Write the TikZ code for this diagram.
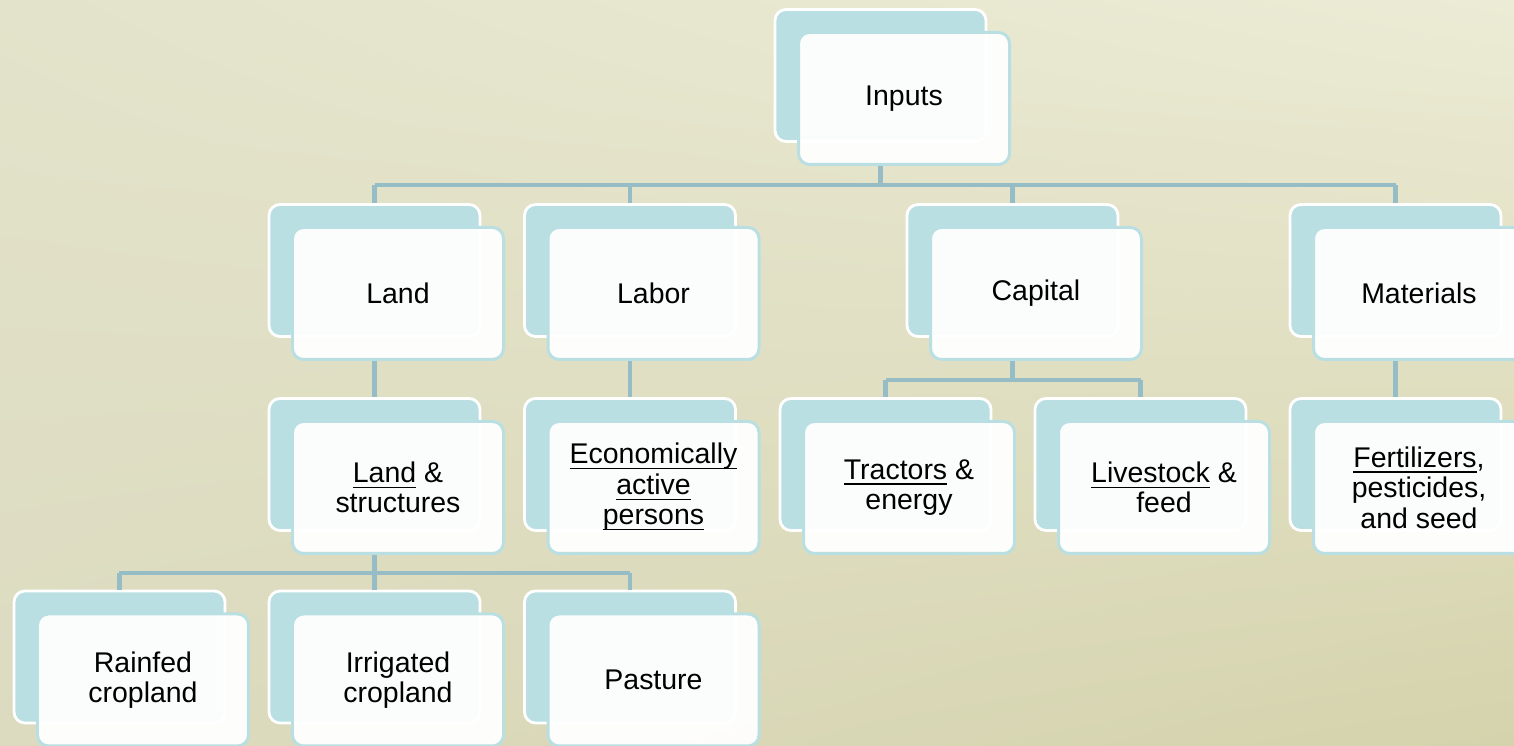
\documentclass[tikz,border=0pt]{standalone}
\usepackage{fontspec}
\setmainfont{Liberation Sans}
\usetikzlibrary{shadings}
\definecolor{cardblue}{RGB}{185,223,226}
\definecolor{linkblue}{RGB}{150,189,197}
\definecolor{bgul}{RGB}{227,227,203}
\definecolor{bgur}{RGB}{236,235,213}
\definecolor{bgll}{RGB}{220,219,192}
\definecolor{bglr}{RGB}{213,211,172}

\newcommand{\udl}[1]{\underline{\raisebox{0pt}[\height][0pt]{#1}}}
\newcommand{\cardpair}[4]{%
  \node[backcard] (#1-back) at ({#2-0.235},{#3+0.23}) {};
  \node[frontcard] (#1) at (#2,#3) {#4};
}

\begin{document}
\begin{tikzpicture}[
  backcard/.style={draw=white,line width=0.028cm,fill=cardblue,rounded corners=0.11cm,
    minimum width=2.11cm,minimum height=1.32cm,inner sep=0pt},
  frontcard/.style={draw=cardblue,line width=0.03cm,fill=white,fill opacity=0.95,text opacity=1,
    rounded corners=0.11cm,minimum width=2.11cm,minimum height=1.32cm,inner sep=0pt,
    align=center,font=\fontsize{8.1}{8.7}\selectfont},
  link/.style={draw=linkblue,line width=0.045cm}]
\clip (0,0) rectangle (15.14,-7.46);
\shade[upper left=bgul,upper right=bgur,lower left=bgll,lower right=bglr] (0,0) rectangle (15.14,-7.46);
\coordinate (bartop) at (0,-1.85);
\coordinate (barcap) at (0,-3.8);
\coordinate (barland) at (0,-5.73);
\cardpair{inputs}{9.04}{-0.985}{Inputs}
\cardpair{land}{3.98}{-2.935}{Land}
\cardpair{labor}{6.535}{-2.935}{Labor}
\cardpair{capital}{10.36}{-2.935}{Capital}
\cardpair{materials}{14.19}{-2.935}{Materials}
\cardpair{structures}{3.98}{-4.875}{\udl{Land} \&\\structures}
\cardpair{persons}{6.535}{-4.875}{\udl{Economically}\\\udl{active}\\\udl{persons}}
\cardpair{tractors}{9.09}{-4.875}{\udl{Tractors} \&\\energy}
\cardpair{livestock}{11.64}{-4.875}{\udl{Livestock} \&\\feed}
\cardpair{fertilizers}{14.19}{-4.875}{\udl{Fertilizers},\\pesticides,\\and seed}
\cardpair{rainfed}{1.43}{-6.8}{Rainfed\\cropland}
\cardpair{irrigated}{3.98}{-6.8}{Irrigated\\cropland}
\cardpair{pasture}{6.535}{-6.8}{Pasture}
\draw[link] (inputs-back |- inputs.south) -- (inputs-back |- bartop);
\draw[link] (land-back |- bartop) -- (materials-back |- bartop);
\foreach \n in {land,labor,capital,materials}
  \draw[link] (\n-back |- bartop) -- (\n-back.north);
\draw[link] (land-back |- land.south) -- (structures-back.north);
\draw[link] (labor-back |- labor.south) -- (persons-back.north);
\draw[link] (materials-back |- materials.south) -- (fertilizers-back.north);
\draw[link] (capital-back |- capital.south) -- (capital-back |- barcap);
\draw[link] (tractors-back |- barcap) -- (livestock-back |- barcap);
\foreach \n in {tractors,livestock}
  \draw[link] (\n-back |- barcap) -- (\n-back.north);
\draw[link] (structures-back |- structures.south) -- (structures-back |- barland);
\draw[link] (rainfed-back |- barland) -- (pasture-back |- barland);
\foreach \n in {rainfed,irrigated,pasture}
  \draw[link] (\n-back |- barland) -- (\n-back.north);
\end{tikzpicture}
\end{document}
